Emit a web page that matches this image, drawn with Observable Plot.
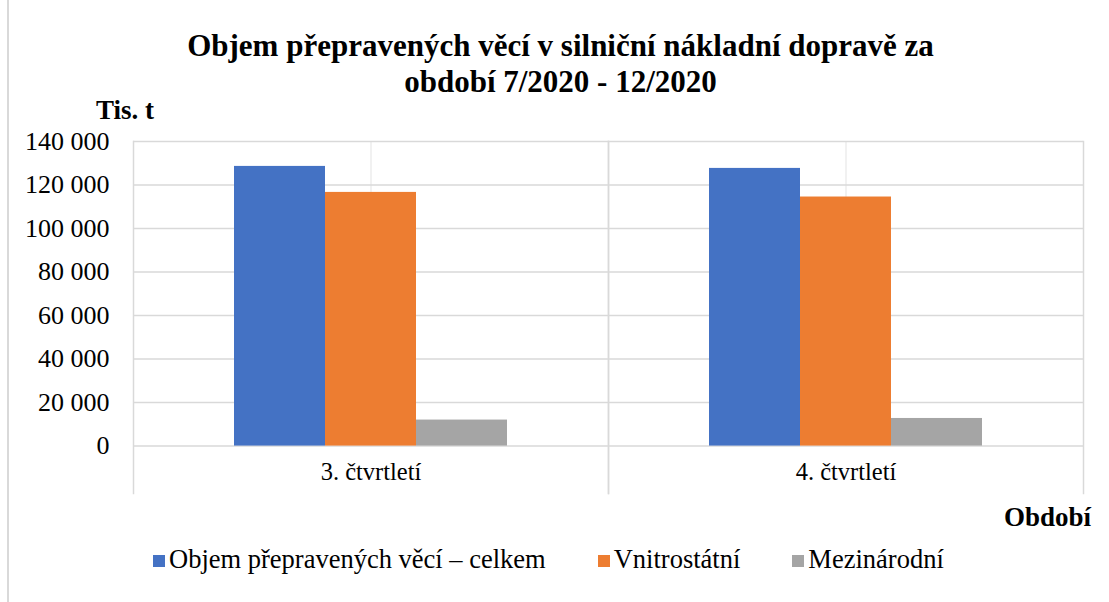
<!DOCTYPE html>
<html>
<head>
<meta charset="utf-8">
<script src="https://cdn.jsdelivr.net/npm/d3@7"></script>
<script src="https://cdn.jsdelivr.net/npm/@observablehq/plot@0.6"></script>
<style>
  body { margin: 0; background: #fff; }
  #wrap { position: relative; width: 1109px; height: 602px; overflow: hidden; background: #fff;
          font-family: "Liberation Serif", "Times New Roman", serif; color: #000; }
  #border { position: absolute; left: 7px; top: 0; height: 602px; border-left: 2px solid #d9d9d9; }
  #title { box-sizing: border-box; height: 95px; padding-top: 28px; padding-left: 12px; text-align: center;
           font-weight: bold; font-size: 31px; line-height: 36px; white-space: nowrap; }
  #ylabel { position: absolute; left: 96px; top: 95px; font-weight: bold; font-size: 27px; line-height: 30px; }
  #xlabel { position: absolute; right: 18px; top: 502px; font-weight: bold; font-size: 27px; line-height: 30px; }
  #legend { position: absolute; left: 153px; top: 544px; display: flex; font-size: 26.5px; line-height: 30px; white-space: nowrap; }
  .item { display: flex; align-items: center; margin-right: 52px; }
  .sw { width: 12px; height: 12px; margin-right: 4px; margin-top: 4px; }
  svg { display: block; }
</style>
</head>
<body>
<div id="wrap">
  <div id="border"></div>
  <div id="title">Objem přepravených věcí v silniční nákladní dopravě za<br>období 7/2020 - 12/2020</div>
  <div id="ylabel">Tis. t</div>
  <div id="chart"></div>
  <div id="xlabel">Období</div>
  <div id="legend"></div>
</div>
<script>
const quarters = ["3. čtvrtletí", "4. čtvrtletí"];
const series = ["Objem přepravených věcí – celkem", "Vnitrostátní", "Mezinárodní"];
const celkem = [128550, 127630];
const vnitrostatni = [116600, 114480];
const mezinarodni = [11950, 12690];
const colors = ["#4472C4", "#ED7D31", "#A5A5A5"];
const yTicks = [0, 20000, 40000, 60000, 80000, 100000, 120000, 140000];

const values = [celkem, vnitrostatni, mezinarodni];
const data = quarters.flatMap((q, i) => series.map((s, j) => ({q, s, v: values[j][i]})));

const fmt = d3.formatLocale({decimal: ",", thousands: " ", grouping: [3], currency: ["", ""]}).format(",d");
const serif = "'Liberation Serif', 'Times New Roman', serif";

const chart = Plot.plot({
  width: 1109,
  height: 430,
  marginTop: 46,
  marginLeft: 132,
  marginRight: 26,
  marginBottom: 32,
  fx: {domain: quarters, padding: 0, axis: null},
  x: {domain: series, paddingInner: 0, paddingOuter: 1.09, axis: null},
  y: {domain: [-21800, 140000], axis: null},
  color: {domain: series, range: colors},
  style: {fontFamily: serif, fontSize: "24px", color: "#000", background: "#fff"},
  marks: [
    Plot.ruleX([series[1]], {x: d => d, y1: 0, y2: yTicks[yTicks.length - 1], stroke: "#ececec", strokeWidth: 1.5}),
    Plot.gridY({ticks: yTicks, stroke: "#d9d9d9", strokeOpacity: 1, strokeWidth: 1.5}),
    Plot.frame({anchor: "left", stroke: "#d9d9d9", strokeWidth: 1.5}),
    Plot.frame({anchor: "right", stroke: "#d9d9d9", strokeWidth: 1.5}),
    Plot.barY(data, {fx: "q", x: "s", y: "v", fill: "s"}),
    Plot.axisY({ticks: yTicks, tickSize: 0, tickPadding: 24, tickFormat: fmt, label: null, fontSize: 26, fill: "#000"}),
    Plot.text(quarters, {fx: d => d, text: d => d, frameAnchor: "bottom", dy: -14, fontSize: 24.5, fill: "#000"})
  ]
});
document.getElementById("chart").appendChild(chart);

const legend = document.getElementById("legend");
series.forEach((s, i) => {
  const it = document.createElement("div");
  it.className = "item";
  const sw = document.createElement("span");
  sw.className = "sw";
  sw.style.background = colors[i];
  const t = document.createElement("span");
  t.textContent = s;
  it.appendChild(sw);
  it.appendChild(t);
  legend.appendChild(it);
});
</script>
</body>
</html>
